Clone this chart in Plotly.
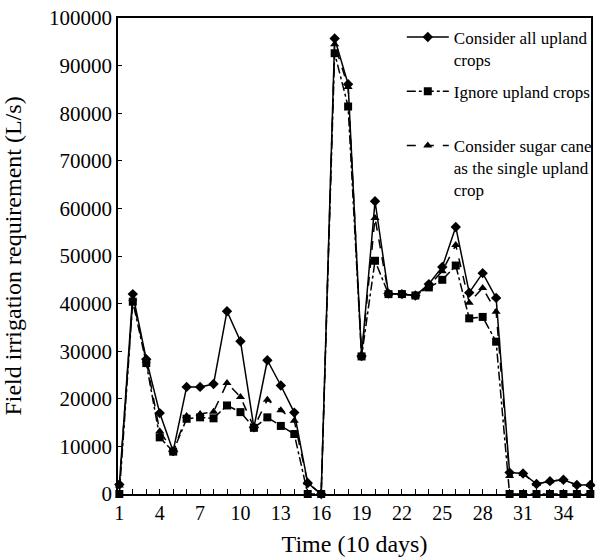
import plotly.graph_objects as go

t = list(range(1, 37))

all_upland = [2000, 42000, 28300, 17000, 9000, 22500, 22500, 23100, 38400, 32100,
              14000, 28100, 22800, 17100, 2300, 0, 95700, 86100, 29000, 61500,
              42100, 42000, 41700, 44100, 47700, 56100, 42300, 46400, 41200, 4500,
              4300, 2100, 2700, 3000, 1900, 1900]

ignore_upland = [0, 40400, 27500, 11900, 8900, 15800, 16100, 15900, 18600, 17200,
                 13900, 16100, 14300, 12600, 0, 0, 92600, 81400, 28900, 49000,
                 42000, 42000, 41700, 43400, 45000, 48000, 36900, 37200, 32000, 0,
                 0, 0, 0, 0, 0, 0]

sugar_cane = [1800, 41000, 28000, 13200, 9000, 16400, 16800, 17300, 23300, 20400,
              14000, 19800, 17600, 15400, 2300, 0, 94500, 85500, 29000, 58000,
              42000, 42000, 41700, 43800, 46800, 52300, 40200, 43300, 38300, 3800,
              4200, 2100, 2700, 3000, 1900, 1900]

names = ["Consider all upland<br>crops",
         "Ignore upland crops<br> ",
         "Consider sugar cane<br>as the single upland<br>crop"]

FONT = "Liberation Serif, Times New Roman, serif"

fig = go.Figure()
fig.add_trace(go.Scatter(x=t, y=all_upland, name=names[0], mode="lines+markers",
                         legendgroup="a",
                         line=dict(color="black", width=1.5, dash="solid"),
                         marker=dict(symbol="diamond", size=8, color="black"),
                         cliponaxis=False))
fig.add_trace(go.Scatter(x=t, y=ignore_upland, name=names[1], mode="lines+markers",
                         legendgroup="b",
                         line=dict(color="black", width=1.5, dash="dashdot"),
                         marker=dict(symbol="square", size=8, color="black"),
                         cliponaxis=False))
fig.add_trace(go.Scatter(x=t, y=sugar_cane, name=names[2], mode="lines+markers",
                         legendgroup="c",
                         line=dict(color="black", width=1.5, dash="dash"),
                         marker=dict(symbol="triangle-up", size=8, color="black"),
                         cliponaxis=False))

fig.update_layout(
    width=603, height=560,
    margin=dict(l=116, r=6, t=16, b=66),
    paper_bgcolor="white", plot_bgcolor="white",
    font=dict(family=FONT, size=20, color="black"),
    showlegend=True,
    legend=dict(x=0.60, y=0.997, xanchor="left", yanchor="top",
                bgcolor="rgba(0,0,0,0)", font=dict(size=17, family=FONT),
                valign="top", itemwidth=42, tracegroupgap=7,
                traceorder="grouped"),
)
fig.update_xaxes(range=[0.9, 36.05], tick0=1, dtick=3, ticks="inside", ticklen=5,
                 tickwidth=1.2, tickcolor="black",
                 showline=True, linecolor="black", linewidth=1.5, mirror=True,
                 showgrid=False, zeroline=False,
                 minor=dict(dtick=1, tick0=1, ticks="inside", ticklen=5, tickcolor="black"),
                 title=dict(text="Time (10 days)", standoff=12),
                 tickfont=dict(size=20))
fig.update_yaxes(range=[0, 100000], dtick=10000, ticks="inside", ticklen=4,
                 tickformat="d",
                 tickcolor="black", showline=True, linecolor="black", linewidth=1.5,
                 mirror=True, showgrid=False, zeroline=False,
                 title=dict(text="Field irrigation requirement (L/s)", standoff=26),
                 tickfont=dict(size=21))

fig.write_html("out.html", config={"displayModeBar": False},
               post_script="document.body.style.margin='0';")
